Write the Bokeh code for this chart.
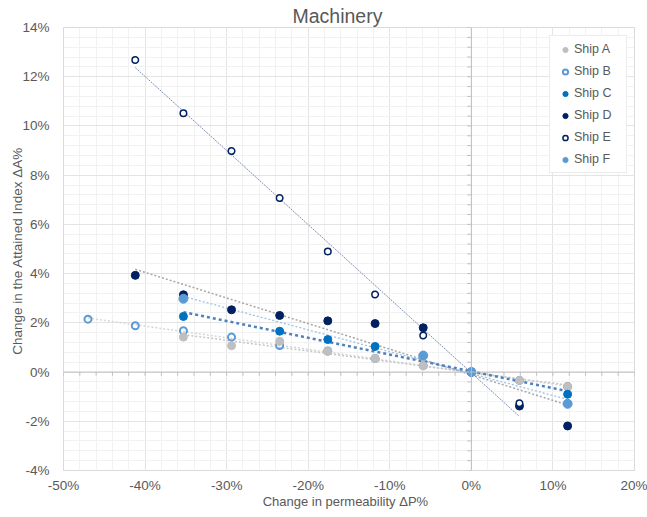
import numpy as np
from bokeh.plotting import figure
from bokeh.models import (Range1d, SingleIntervalTicker, PrintfTickFormatter, Span,
                          Legend, LegendItem)
from bokeh.embed import file_html
from bokeh.resources import INLINE

# ---------------- data ----------------
TITLE = "Machinery"
X_LABEL = "Change  in permeability  \u0394P%"
Y_LABEL = "Change in the Attained Index  \u0394A%"
series_names = ["Ship A", "Ship B", "Ship C", "Ship D", "Ship E", "Ship F"]

ship_a_x = [-35.3, -29.4, -23.5, -17.6, -11.8, -5.9, 0.0, 5.9, 11.8]
ship_a_y = [1.42, 1.07, 1.25, 0.84, 0.55, 0.26, 0.0, -0.34, -0.59]

ship_b_x = [-47.0, -41.2, -35.3, -29.4, -23.5, -17.6, -11.8, -5.9, 0.0, 5.9, 11.8]
ship_b_y = [2.15, 1.88, 1.68, 1.42, 1.08, 0.86, 0.55, 0.26, 0.0, -0.34, -0.59]

ship_c_x = [-35.3, -23.5, -17.6, -11.8, 0.0, 11.8]
ship_c_y = [2.26, 1.66, 1.32, 1.04, 0.0, -0.90]

ship_d_x = [-41.2, -35.3, -29.4, -23.5, -17.6, -11.8, -5.9, 0.0, 5.9, 11.8]
ship_d_y = [3.93, 3.14, 2.53, 2.30, 2.08, 1.97, 1.80, 0.0, -1.38, -2.19]

ship_e_x = [-41.2, -35.3, -29.4, -23.5, -17.6, -11.8, -5.9, 0.0, 5.9]
ship_e_y = [12.68, 10.52, 8.98, 7.07, 4.90, 3.15, 1.49, 0.0, -1.27]

ship_f_x = [-35.3, -5.9, 0.0, 11.8]
ship_f_y = [2.98, 0.67, 0.0, -1.29]

# ---------------- figure ----------------
FONT = "Liberation Sans"
TXT = "#595959"

p = figure(width=647, height=517, x_range=Range1d(-50, 20), y_range=Range1d(-4, 14),
           output_backend="svg", toolbar_location=None,
           min_border_left=63, min_border_right=13, min_border_top=27, min_border_bottom=47,
           background_fill_color="white", border_fill_color="white",
           outline_line_color="#D9D9D9", title=TITLE)

p.title.align = "left"
p.title.offset = 229
p.title.text_font = FONT
p.title.text_font_size = "19.5px"
p.title.text_font_style = "normal"
p.title.text_color = TXT
p.title.standoff = 2

xt = SingleIntervalTicker(interval=10, num_minor_ticks=5)
yt = SingleIntervalTicker(interval=2, num_minor_ticks=5)
p.xaxis.ticker = xt
p.yaxis.ticker = yt
p.xgrid.ticker = xt
p.ygrid.ticker = yt
for g in (p.xgrid, p.ygrid):
    g.grid_line_color = "#E4E4E4"
    g.minor_grid_line_color = "#F2F2F2"

for ax in (p.xaxis, p.yaxis):
    ax.formatter = PrintfTickFormatter(format="%d%%")
    ax.axis_line_color = None
    ax.major_tick_line_color = None
    ax.minor_tick_line_color = None
    ax.major_label_text_font = FONT
    ax.major_label_text_font_size = "13.5px"
    ax.major_label_text_color = TXT
    ax.axis_label_text_font = FONT
    ax.axis_label_text_font_style = "normal"
    ax.axis_label_text_color = TXT
p.xaxis.axis_label_text_font_size = "13px"
p.yaxis.axis_label_text_font_size = "13.5px"
p.xaxis.axis_label = X_LABEL
p.yaxis.axis_label = Y_LABEL
p.xaxis.major_label_standoff = 1
p.yaxis.major_label_standoff = 8
p.xaxis.axis_label_standoff = -2
p.yaxis.axis_label_standoff = -6

# zero lines with their small tick marks
p.add_layout(Span(location=0, dimension="height", line_color="#BFBFBF", line_width=1))
p.add_layout(Span(location=0, dimension="width", line_color="#BFBFBF", line_width=1))
xticks = np.arange(-50, 20.01, 2)
p.segment(x0=xticks, y0=np.zeros_like(xticks), x1=xticks, y1=np.full_like(xticks, -0.15),
          line_color="#BFBFBF", line_width=1)
yticks = np.arange(-4, 14.01, 0.4)
p.segment(x0=np.full_like(yticks, -0.5), y0=yticks, x1=np.zeros_like(yticks), y1=yticks,
          line_color="#BFBFBF", line_width=1)

# ---------------- linear trendlines ----------------
def trend(xs, ys, color, width, dash):
    k, b = np.polyfit(xs, ys, 1)
    x0, x1 = min(xs), max(xs)
    p.line([x0, x1], [k * x0 + b, k * x1 + b], line_color=color, line_width=width,
           line_dash=dash)

trend(ship_b_x, ship_b_y, "#D6D6D6", 1.5, "2 2")
trend(ship_a_x, ship_a_y, "#C6C6C6", 1.5, "2 2")
trend(ship_d_x, ship_d_y, "#A6A6A6", 1.5, "2 2")
trend(ship_f_x, ship_f_y, "#9DC3E6", 1.3, "2 2")
trend(ship_c_x, ship_c_y, "#4F81BD", 2.5, "3 3")
trend(ship_e_x, ship_e_y, "#7F8FB5", 1.0, "2 1")

# ---------------- markers ----------------
rB = p.scatter(ship_b_x, ship_b_y, size=7, marker="circle", fill_color=None,
               line_color="#5B9BD5", line_width=2)
rA = p.scatter(ship_a_x, ship_a_y, size=8, marker="circle", fill_color="#BFBFBF",
               line_color="#BFBFBF", line_width=1)
rC = p.scatter(ship_c_x, ship_c_y, size=8, marker="circle", fill_color="#0070C0",
               line_color="#0070C0", line_width=1)
rD = p.scatter(ship_d_x, ship_d_y, size=8, marker="circle", fill_color="#002060",
               line_color="#002060", line_width=1)
rE = p.scatter(ship_e_x, ship_e_y, size=6.5, marker="circle", fill_color="white",
               line_color="#002060", line_width=1.5)
rF = p.scatter(ship_f_x, ship_f_y, size=9, marker="circle", fill_color="#5B9BD5",
               line_color="#5B9BD5", line_width=1)

legend = Legend(items=[LegendItem(label=n, renderers=[r]) for n, r in
                       zip(series_names, [rA, rB, rC, rD, rE, rF])],
                location=(486, 297), padding=6, spacing=8, margin=0,
                glyph_height=13, glyph_width=18, label_height=13, label_width=46,
                label_standoff=0, border_line_color="#D9D9D9",
                background_fill_color="white", background_fill_alpha=1.0,
                label_text_font=FONT, label_text_font_size="12.5px", label_text_color=TXT)
p.add_layout(legend)

open("out.html", "w").write(file_html(p, INLINE))
